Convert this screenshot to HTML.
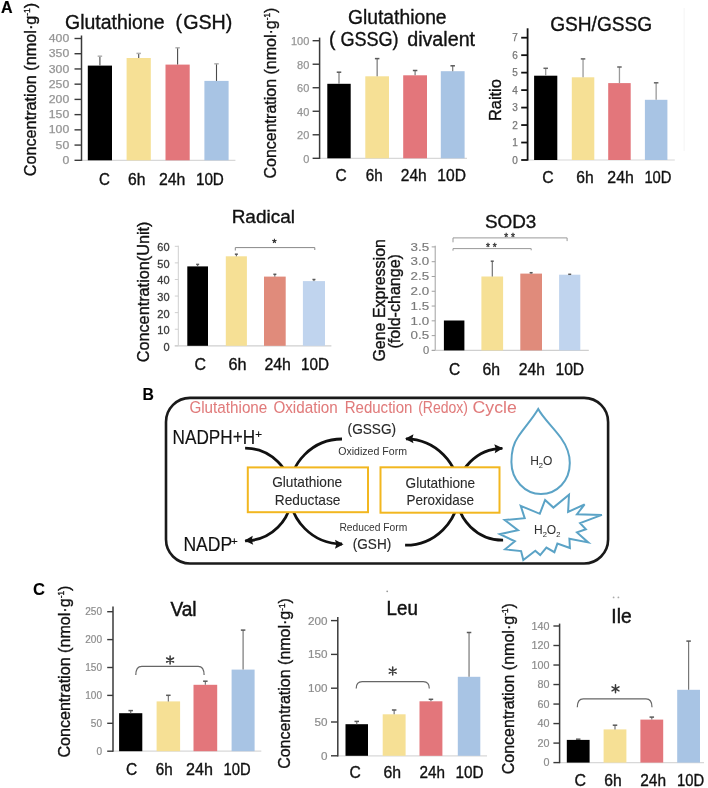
<!DOCTYPE html>
<html><head><meta charset="utf-8"><style>
html,body{margin:0;padding:0;background:#fff;width:708px;height:788px;overflow:hidden}
svg{display:block;font-family:"Liberation Sans",sans-serif;filter:blur(0.35px)}
</style></head><body>
<svg width="708" height="788" viewBox="0 0 708 788">
<text x="0.9" y="12.6" font-size="16.5" fill="#000" stroke="#000" stroke-width="0.2" font-weight="bold" textLength="11.6" lengthAdjust="spacingAndGlyphs" >A</text>
<line x1="81.5" y1="160.3" x2="235.4" y2="160.3" stroke="#d8d8d8" stroke-width="1.2" />
<line x1="81.5" y1="35.5" x2="81.5" y2="160.9" stroke="#3a3a3a" stroke-width="1.5" />
<line x1="74.5" y1="160.3" x2="81.5" y2="160.3" stroke="#3a3a3a" stroke-width="1.4" />
<text x="69.2" y="163.9" font-size="10.3" fill="#959595" stroke="#959595" stroke-width="0.25" text-anchor="end" textLength="6.8" lengthAdjust="spacingAndGlyphs" >0</text>
<line x1="74.5" y1="145.08" x2="81.5" y2="145.08" stroke="#3a3a3a" stroke-width="1.4" />
<text x="69.2" y="148.68" font-size="10.3" fill="#959595" stroke="#959595" stroke-width="0.25" text-anchor="end" textLength="13.6" lengthAdjust="spacingAndGlyphs" >50</text>
<line x1="74.5" y1="129.85" x2="81.5" y2="129.85" stroke="#3a3a3a" stroke-width="1.4" />
<text x="69.2" y="133.45" font-size="10.3" fill="#959595" stroke="#959595" stroke-width="0.25" text-anchor="end" textLength="20.4" lengthAdjust="spacingAndGlyphs" >100</text>
<line x1="74.5" y1="114.63" x2="81.5" y2="114.63" stroke="#3a3a3a" stroke-width="1.4" />
<text x="69.2" y="118.23" font-size="10.3" fill="#959595" stroke="#959595" stroke-width="0.25" text-anchor="end" textLength="20.4" lengthAdjust="spacingAndGlyphs" >150</text>
<line x1="74.5" y1="99.4" x2="81.5" y2="99.4" stroke="#3a3a3a" stroke-width="1.4" />
<text x="69.2" y="103.0" font-size="10.3" fill="#959595" stroke="#959595" stroke-width="0.25" text-anchor="end" textLength="20.4" lengthAdjust="spacingAndGlyphs" >200</text>
<line x1="74.5" y1="84.17" x2="81.5" y2="84.17" stroke="#3a3a3a" stroke-width="1.4" />
<text x="69.2" y="87.77" font-size="10.3" fill="#959595" stroke="#959595" stroke-width="0.25" text-anchor="end" textLength="20.4" lengthAdjust="spacingAndGlyphs" >250</text>
<line x1="74.5" y1="68.95" x2="81.5" y2="68.95" stroke="#3a3a3a" stroke-width="1.4" />
<text x="69.2" y="72.55" font-size="10.3" fill="#959595" stroke="#959595" stroke-width="0.25" text-anchor="end" textLength="20.4" lengthAdjust="spacingAndGlyphs" >300</text>
<line x1="74.5" y1="53.72" x2="81.5" y2="53.72" stroke="#3a3a3a" stroke-width="1.4" />
<text x="69.2" y="57.32" font-size="10.3" fill="#959595" stroke="#959595" stroke-width="0.25" text-anchor="end" textLength="20.4" lengthAdjust="spacingAndGlyphs" >350</text>
<line x1="74.5" y1="38.5" x2="81.5" y2="38.5" stroke="#3a3a3a" stroke-width="1.4" />
<text x="69.2" y="42.1" font-size="10.3" fill="#959595" stroke="#959595" stroke-width="0.25" text-anchor="end" textLength="20.4" lengthAdjust="spacingAndGlyphs" >400</text>
<rect x="87.8" y="65.6" width="24.200000000000003" height="94.70000000000002" fill="#000"/>
<line x1="99.9" y1="65.6" x2="99.9" y2="56.2" stroke="#4a4a4a" stroke-width="1.1" />
<line x1="97.65" y1="56.2" x2="102.15" y2="56.2" stroke="#b0b0b0" stroke-width="1.5" />
<rect x="126.6" y="58" width="24.200000000000017" height="102.30000000000001" fill="#f6e095"/>
<line x1="138.7" y1="58" x2="138.7" y2="53.4" stroke="#4a4a4a" stroke-width="1.1" />
<line x1="136.45" y1="53.4" x2="140.95" y2="53.4" stroke="#b0b0b0" stroke-width="1.5" />
<rect x="165.5" y="64.6" width="24.19999999999999" height="95.70000000000002" fill="#e3767b"/>
<line x1="177.6" y1="64.6" x2="177.6" y2="47.8" stroke="#4a4a4a" stroke-width="1.1" />
<line x1="175.35" y1="47.8" x2="179.85" y2="47.8" stroke="#b0b0b0" stroke-width="1.5" />
<rect x="204.4" y="80.9" width="24.19999999999999" height="79.4" fill="#a8c4e4"/>
<line x1="216.5" y1="80.9" x2="216.5" y2="63.8" stroke="#4a4a4a" stroke-width="1.1" />
<line x1="214.25" y1="63.8" x2="218.75" y2="63.8" stroke="#b0b0b0" stroke-width="1.5" />
<text x="98.9" y="184.5" font-size="16" fill="#111" stroke="#111" stroke-width="0.35" textLength="10.9" lengthAdjust="spacingAndGlyphs" >C</text>
<text x="128.1" y="184.5" font-size="16" fill="#111" stroke="#111" stroke-width="0.35" textLength="17.4" lengthAdjust="spacingAndGlyphs" >6h</text>
<text x="158.9" y="184.5" font-size="16" fill="#111" stroke="#111" stroke-width="0.35" textLength="26.4" lengthAdjust="spacingAndGlyphs" >24h</text>
<text x="195.9" y="184.5" font-size="16" fill="#111" stroke="#111" stroke-width="0.35" textLength="28.0" lengthAdjust="spacingAndGlyphs" >10D</text>
<text x="65" y="28.6" font-size="19.5" fill="#111" stroke="#111" stroke-width="0.35" textLength="99.5" lengthAdjust="spacingAndGlyphs" >Glutathione</text>
<text x="175.4" y="28.6" font-size="19.5" fill="#111" stroke="#111" stroke-width="0.35" >(</text>
<text x="183.2" y="28.6" font-size="19.5" fill="#111" stroke="#111" stroke-width="0.35" textLength="49.2" lengthAdjust="spacingAndGlyphs" >GSH)</text>
<text transform="translate(35.6,176.32) rotate(-90)" x="0" y="0" font-size="16.5" fill="#111" stroke="#111" stroke-width="0.35" textLength="173.5" lengthAdjust="spacingAndGlyphs" >Concentration (nmol·g<tspan font-size="8.5" dy="-5.5">-1</tspan><tspan dy="5.5">)</tspan></text>
<line x1="319.6" y1="158.3" x2="467" y2="158.3" stroke="#d8d8d8" stroke-width="1.2" />
<line x1="319.6" y1="37.6" x2="319.6" y2="158.9" stroke="#3a3a3a" stroke-width="1.5" />
<line x1="312.6" y1="158.3" x2="319.6" y2="158.3" stroke="#3a3a3a" stroke-width="1.4" />
<text x="309.3" y="162.7" font-size="11" fill="#959595" stroke="#959595" stroke-width="0.25" text-anchor="end" >0</text>
<line x1="312.6" y1="134.78" x2="319.6" y2="134.78" stroke="#3a3a3a" stroke-width="1.4" />
<text x="309.3" y="139.18" font-size="11" fill="#959595" stroke="#959595" stroke-width="0.25" text-anchor="end" >20</text>
<line x1="312.6" y1="111.26" x2="319.6" y2="111.26" stroke="#3a3a3a" stroke-width="1.4" />
<text x="309.3" y="115.66" font-size="11" fill="#959595" stroke="#959595" stroke-width="0.25" text-anchor="end" >40</text>
<line x1="312.6" y1="87.74" x2="319.6" y2="87.74" stroke="#3a3a3a" stroke-width="1.4" />
<text x="309.3" y="92.14" font-size="11" fill="#959595" stroke="#959595" stroke-width="0.25" text-anchor="end" >60</text>
<line x1="312.6" y1="64.22" x2="319.6" y2="64.22" stroke="#3a3a3a" stroke-width="1.4" />
<text x="309.3" y="68.62" font-size="11" fill="#959595" stroke="#959595" stroke-width="0.25" text-anchor="end" >80</text>
<line x1="312.6" y1="40.7" x2="319.6" y2="40.7" stroke="#3a3a3a" stroke-width="1.4" />
<text x="309.3" y="45.1" font-size="11" fill="#959595" stroke="#959595" stroke-width="0.25" text-anchor="end" >100</text>
<rect x="327.3" y="83.8" width="23.399999999999977" height="74.50000000000001" fill="#000"/>
<line x1="339.0" y1="83.8" x2="339.0" y2="72.2" stroke="#777" stroke-width="1.2" />
<line x1="336.75" y1="72.2" x2="341.25" y2="72.2" stroke="#5a5a5a" stroke-width="1.5" />
<rect x="365.3" y="76.3" width="23.69999999999999" height="82.00000000000001" fill="#f6e095"/>
<line x1="377.15" y1="76.3" x2="377.15" y2="58.6" stroke="#777" stroke-width="1.2" />
<line x1="374.9" y1="58.6" x2="379.4" y2="58.6" stroke="#5a5a5a" stroke-width="1.5" />
<rect x="403.2" y="75.3" width="23.80000000000001" height="83.00000000000001" fill="#e3767b"/>
<line x1="415.1" y1="75.3" x2="415.1" y2="70.5" stroke="#777" stroke-width="1.2" />
<line x1="412.85" y1="70.5" x2="417.35" y2="70.5" stroke="#5a5a5a" stroke-width="1.5" />
<rect x="440.8" y="71.2" width="23.80000000000001" height="87.10000000000001" fill="#a8c4e4"/>
<line x1="452.7" y1="71.2" x2="452.7" y2="65.8" stroke="#777" stroke-width="1.2" />
<line x1="450.45" y1="65.8" x2="454.95" y2="65.8" stroke="#5a5a5a" stroke-width="1.5" />
<text x="335.6" y="180.5" font-size="16" fill="#111" stroke="#111" stroke-width="0.35" textLength="11.2" lengthAdjust="spacingAndGlyphs" >C</text>
<text x="365.7" y="180.5" font-size="16" fill="#111" stroke="#111" stroke-width="0.35" textLength="16.9" lengthAdjust="spacingAndGlyphs" >6h</text>
<text x="400.8" y="180.5" font-size="16" fill="#111" stroke="#111" stroke-width="0.35" textLength="25.9" lengthAdjust="spacingAndGlyphs" >24h</text>
<text x="437.3" y="180.5" font-size="16" fill="#111" stroke="#111" stroke-width="0.35" textLength="28.6" lengthAdjust="spacingAndGlyphs" >10D</text>
<text x="348" y="24.4" font-size="19.5" fill="#111" stroke="#111" stroke-width="0.35" textLength="98.6" lengthAdjust="spacingAndGlyphs" >Glutathione</text>
<text x="329" y="45.8" font-size="19.5" fill="#111" stroke="#111" stroke-width="0.35" >(</text>
<text x="340.4" y="45.8" font-size="19.5" fill="#111" stroke="#111" stroke-width="0.35" textLength="58.2" lengthAdjust="spacingAndGlyphs" >GSSG)</text>
<text x="407.2" y="45.8" font-size="19.5" fill="#111" stroke="#111" stroke-width="0.35" textLength="67.9" lengthAdjust="spacingAndGlyphs" >divalent</text>
<text transform="translate(275.6,178.52) rotate(-90)" x="0" y="0" font-size="16.5" fill="#111" stroke="#111" stroke-width="0.35" textLength="170.9" lengthAdjust="spacingAndGlyphs" >Concentration (nmol·g<tspan font-size="8.5" dy="-5.5">-1</tspan><tspan dy="5.5">)</tspan></text>
<line x1="527.6" y1="160" x2="674.8" y2="160" stroke="#d8d8d8" stroke-width="1.2" />
<line x1="527.6" y1="28.3" x2="527.6" y2="160.6" stroke="#111" stroke-width="1.8" />
<line x1="521.2" y1="160.0" x2="527.6" y2="160.0" stroke="#111" stroke-width="1.8" />
<text x="517.8" y="163.6" font-size="10" fill="#777" stroke="#777" stroke-width="0.25" text-anchor="end" >0</text>
<line x1="521.2" y1="142.53" x2="527.6" y2="142.53" stroke="#111" stroke-width="1.8" />
<text x="517.8" y="146.13" font-size="10" fill="#777" stroke="#777" stroke-width="0.25" text-anchor="end" >1</text>
<line x1="521.2" y1="125.06" x2="527.6" y2="125.06" stroke="#111" stroke-width="1.8" />
<text x="517.8" y="128.66" font-size="10" fill="#777" stroke="#777" stroke-width="0.25" text-anchor="end" >2</text>
<line x1="521.2" y1="107.59" x2="527.6" y2="107.59" stroke="#111" stroke-width="1.8" />
<text x="517.8" y="111.19" font-size="10" fill="#777" stroke="#777" stroke-width="0.25" text-anchor="end" >3</text>
<line x1="521.2" y1="90.11" x2="527.6" y2="90.11" stroke="#111" stroke-width="1.8" />
<text x="517.8" y="93.71" font-size="10" fill="#777" stroke="#777" stroke-width="0.25" text-anchor="end" >4</text>
<line x1="521.2" y1="72.64" x2="527.6" y2="72.64" stroke="#111" stroke-width="1.8" />
<text x="517.8" y="76.24" font-size="10" fill="#777" stroke="#777" stroke-width="0.25" text-anchor="end" >5</text>
<line x1="521.2" y1="55.17" x2="527.6" y2="55.17" stroke="#111" stroke-width="1.8" />
<text x="517.8" y="58.77" font-size="10" fill="#777" stroke="#777" stroke-width="0.25" text-anchor="end" >6</text>
<line x1="521.2" y1="37.7" x2="527.6" y2="37.7" stroke="#111" stroke-width="1.8" />
<text x="517.8" y="41.3" font-size="10" fill="#777" stroke="#777" stroke-width="0.25" text-anchor="end" >7</text>
<rect x="534.1" y="75.7" width="23.199999999999932" height="84.3" fill="#000"/>
<line x1="545.7" y1="75.7" x2="545.7" y2="68.3" stroke="#9a9a9a" stroke-width="1.3" />
<line x1="543.45" y1="68.3" x2="547.95" y2="68.3" stroke="#666" stroke-width="1.5" />
<rect x="571.8" y="77.3" width="22.5" height="82.7" fill="#f6e095"/>
<line x1="583.05" y1="77.3" x2="583.05" y2="58.9" stroke="#9a9a9a" stroke-width="1.3" />
<line x1="580.8" y1="58.9" x2="585.3" y2="58.9" stroke="#666" stroke-width="1.5" />
<rect x="608.2" y="83.1" width="22.5" height="76.9" fill="#e3767b"/>
<line x1="619.45" y1="83.1" x2="619.45" y2="67" stroke="#9a9a9a" stroke-width="1.3" />
<line x1="617.2" y1="67" x2="621.7" y2="67" stroke="#666" stroke-width="1.5" />
<rect x="644.9" y="99.8" width="22.5" height="60.2" fill="#a8c4e4"/>
<line x1="656.15" y1="99.8" x2="656.15" y2="82.8" stroke="#9a9a9a" stroke-width="1.3" />
<line x1="653.9" y1="82.8" x2="658.4" y2="82.8" stroke="#666" stroke-width="1.5" />
<text x="542.3" y="183.3" font-size="16" fill="#111" stroke="#111" stroke-width="0.35" textLength="11.4" lengthAdjust="spacingAndGlyphs" >C</text>
<text x="576.2" y="183.3" font-size="16" fill="#111" stroke="#111" stroke-width="0.35" textLength="17.4" lengthAdjust="spacingAndGlyphs" >6h</text>
<text x="607.3" y="183.3" font-size="16" fill="#111" stroke="#111" stroke-width="0.35" textLength="26.5" lengthAdjust="spacingAndGlyphs" >24h</text>
<text x="644.4" y="183.3" font-size="16" fill="#111" stroke="#111" stroke-width="0.35" textLength="27.1" lengthAdjust="spacingAndGlyphs" >10D</text>
<text x="550.2" y="31.2" font-size="19.5" fill="#111" stroke="#111" stroke-width="0.35" textLength="102" lengthAdjust="spacingAndGlyphs" >GSH/GSSG</text>
<text transform="translate(501.2,121.1) rotate(-90)" x="0" y="0" font-size="16.5" fill="#111" stroke="#111" stroke-width="0.35" textLength="42" lengthAdjust="spacingAndGlyphs" >Raitio</text>
<line x1="178.3" y1="245.7" x2="178.3" y2="345.8" stroke="#cfcfcf" stroke-width="1" />
<line x1="174.8" y1="345.8" x2="331.4" y2="345.8" stroke="#cfcfcf" stroke-width="1.2" />
<line x1="174.8" y1="345.8" x2="178.3" y2="345.8" stroke="#cfcfcf" stroke-width="1" />
<text x="169.6" y="350.7" font-size="11" fill="#3a3a3a" stroke="#3a3a3a" stroke-width="0.3" text-anchor="end" >0</text>
<line x1="174.8" y1="329.22" x2="178.3" y2="329.22" stroke="#cfcfcf" stroke-width="1" />
<text x="169.6" y="334.12" font-size="11" fill="#3a3a3a" stroke="#3a3a3a" stroke-width="0.3" text-anchor="end" >10</text>
<line x1="174.8" y1="312.63" x2="178.3" y2="312.63" stroke="#cfcfcf" stroke-width="1" />
<text x="169.6" y="317.53" font-size="11" fill="#3a3a3a" stroke="#3a3a3a" stroke-width="0.3" text-anchor="end" >20</text>
<line x1="174.8" y1="296.05" x2="178.3" y2="296.05" stroke="#cfcfcf" stroke-width="1" />
<text x="169.6" y="300.95" font-size="11" fill="#3a3a3a" stroke="#3a3a3a" stroke-width="0.3" text-anchor="end" >30</text>
<line x1="174.8" y1="279.47" x2="178.3" y2="279.47" stroke="#cfcfcf" stroke-width="1" />
<text x="169.6" y="284.37" font-size="11" fill="#3a3a3a" stroke="#3a3a3a" stroke-width="0.3" text-anchor="end" >40</text>
<line x1="174.8" y1="262.88" x2="178.3" y2="262.88" stroke="#cfcfcf" stroke-width="1" />
<text x="169.6" y="267.78" font-size="11" fill="#3a3a3a" stroke="#3a3a3a" stroke-width="0.3" text-anchor="end" >50</text>
<line x1="174.8" y1="246.3" x2="178.3" y2="246.3" stroke="#cfcfcf" stroke-width="1" />
<text x="169.6" y="251.2" font-size="11" fill="#3a3a3a" stroke="#3a3a3a" stroke-width="0.3" text-anchor="end" >60</text>
<rect x="187.3" y="266.4" width="20.69999999999999" height="79.40000000000003" fill="#000"/>
<line x1="197.65" y1="266.4" x2="197.65" y2="264.4" stroke="#555" stroke-width="1" />
<line x1="196.15" y1="264.4" x2="199.15" y2="264.4" stroke="#5a5a5a" stroke-width="1.5" />
<rect x="225.8" y="256.3" width="21.099999999999994" height="89.5" fill="#f6e095"/>
<line x1="236.35" y1="256.3" x2="236.35" y2="254.2" stroke="#555" stroke-width="1" />
<line x1="234.85" y1="254.2" x2="237.85" y2="254.2" stroke="#5a5a5a" stroke-width="1.5" />
<rect x="264" y="276.6" width="21.69999999999999" height="69.19999999999999" fill="#e08b7b"/>
<line x1="274.85" y1="276.6" x2="274.85" y2="274.3" stroke="#555" stroke-width="1" />
<line x1="273.35" y1="274.3" x2="276.35" y2="274.3" stroke="#5a5a5a" stroke-width="1.5" />
<rect x="302.9" y="281.1" width="22.100000000000023" height="64.69999999999999" fill="#c0d4ee"/>
<line x1="313.95" y1="281.1" x2="313.95" y2="279.5" stroke="#555" stroke-width="1" />
<line x1="312.45" y1="279.5" x2="315.45" y2="279.5" stroke="#5a5a5a" stroke-width="1.5" />
<path d="M235.3,250.5 L235.3,247.6 L314.8,247.6 L314.8,250" stroke="#888" stroke-width="1" fill="none" />
<text x="274.5" y="247" font-size="11" fill="#222" stroke="#222" stroke-width="0.35" text-anchor="middle" >*</text>
<text x="194.6" y="369.8" font-size="16" fill="#111" stroke="#111" stroke-width="0.35" textLength="11.5" lengthAdjust="spacingAndGlyphs" >C</text>
<text x="228.4" y="369.8" font-size="16" fill="#111" stroke="#111" stroke-width="0.35" textLength="18.0" lengthAdjust="spacingAndGlyphs" >6h</text>
<text x="264.4" y="369.8" font-size="16" fill="#111" stroke="#111" stroke-width="0.35" textLength="26.5" lengthAdjust="spacingAndGlyphs" >24h</text>
<text x="301.1" y="369.8" font-size="16" fill="#111" stroke="#111" stroke-width="0.35" textLength="28.0" lengthAdjust="spacingAndGlyphs" >10D</text>
<text x="231.7" y="222.9" font-size="18.5" fill="#111" stroke="#111" stroke-width="0.35" textLength="63.2" lengthAdjust="spacingAndGlyphs" >Radical</text>
<text transform="translate(148.5,362.3) rotate(-90)" x="0" y="0" font-size="16" fill="#111" stroke="#111" stroke-width="0.35" textLength="140.8" lengthAdjust="spacingAndGlyphs" >Concentration(Unit)</text>
<line x1="435.2" y1="245.7" x2="435.2" y2="350.4" stroke="#a0a0a0" stroke-width="1" />
<line x1="431.7" y1="350.4" x2="588.8" y2="350.4" stroke="#cfcfcf" stroke-width="1.2" />
<line x1="431.7" y1="350.4" x2="435.2" y2="350.4" stroke="#a0a0a0" stroke-width="1" />
<text x="429.2" y="354.2" font-size="10.5" fill="#7a7a7a" stroke="#7a7a7a" stroke-width="0.15" text-anchor="end" textLength="6.2" lengthAdjust="spacingAndGlyphs" >0</text>
<line x1="431.7" y1="335.61" x2="435.2" y2="335.61" stroke="#a0a0a0" stroke-width="1" />
<text x="429.2" y="339.41" font-size="10.5" fill="#7a7a7a" stroke="#7a7a7a" stroke-width="0.15" text-anchor="end" textLength="18.6" lengthAdjust="spacingAndGlyphs" >0.5</text>
<line x1="431.7" y1="320.83" x2="435.2" y2="320.83" stroke="#a0a0a0" stroke-width="1" />
<text x="429.2" y="324.63" font-size="10.5" fill="#7a7a7a" stroke="#7a7a7a" stroke-width="0.15" text-anchor="end" textLength="18.6" lengthAdjust="spacingAndGlyphs" >1.0</text>
<line x1="431.7" y1="306.04" x2="435.2" y2="306.04" stroke="#a0a0a0" stroke-width="1" />
<text x="429.2" y="309.84" font-size="10.5" fill="#7a7a7a" stroke="#7a7a7a" stroke-width="0.15" text-anchor="end" textLength="18.6" lengthAdjust="spacingAndGlyphs" >1.5</text>
<line x1="431.7" y1="291.26" x2="435.2" y2="291.26" stroke="#a0a0a0" stroke-width="1" />
<text x="429.2" y="295.06" font-size="10.5" fill="#7a7a7a" stroke="#7a7a7a" stroke-width="0.15" text-anchor="end" textLength="18.6" lengthAdjust="spacingAndGlyphs" >2.0</text>
<line x1="431.7" y1="276.47" x2="435.2" y2="276.47" stroke="#a0a0a0" stroke-width="1" />
<text x="429.2" y="280.27" font-size="10.5" fill="#7a7a7a" stroke="#7a7a7a" stroke-width="0.15" text-anchor="end" textLength="18.6" lengthAdjust="spacingAndGlyphs" >2.5</text>
<line x1="431.7" y1="261.69" x2="435.2" y2="261.69" stroke="#a0a0a0" stroke-width="1" />
<text x="429.2" y="265.49" font-size="10.5" fill="#7a7a7a" stroke="#7a7a7a" stroke-width="0.15" text-anchor="end" textLength="18.6" lengthAdjust="spacingAndGlyphs" >3.0</text>
<line x1="431.7" y1="246.9" x2="435.2" y2="246.9" stroke="#a0a0a0" stroke-width="1" />
<text x="429.2" y="250.7" font-size="10.5" fill="#7a7a7a" stroke="#7a7a7a" stroke-width="0.15" text-anchor="end" textLength="18.6" lengthAdjust="spacingAndGlyphs" >3.5</text>
<rect x="443.9" y="320.5" width="20.5" height="29.899999999999977" fill="#000"/>
<rect x="481.4" y="276.5" width="21.700000000000045" height="73.89999999999998" fill="#f6e095"/>
<line x1="492.25" y1="276.5" x2="492.25" y2="261.2" stroke="#555" stroke-width="1" />
<line x1="490.75" y1="261.2" x2="493.75" y2="261.2" stroke="#5a5a5a" stroke-width="1.5" />
<rect x="520.3" y="273.6" width="21.700000000000045" height="76.79999999999995" fill="#e08b7b"/>
<line x1="531.15" y1="273.6" x2="531.15" y2="272.7" stroke="#555" stroke-width="1" />
<line x1="529.65" y1="272.7" x2="532.65" y2="272.7" stroke="#5a5a5a" stroke-width="1.5" />
<rect x="559.1" y="274.7" width="21.199999999999932" height="75.69999999999999" fill="#c0d4ee"/>
<line x1="569.7" y1="274.7" x2="569.7" y2="274.3" stroke="#555" stroke-width="1" />
<line x1="568.2" y1="274.3" x2="571.2" y2="274.3" stroke="#5a5a5a" stroke-width="1.5" />
<path d="M453,242.3 L453,237.9 L567.1,237.9 L567.1,241.1" stroke="#999" stroke-width="1" fill="none" />
<path d="M453,250.7 L453,248.6 L531.2,248.6 L531.2,250.3" stroke="#999" stroke-width="1" fill="none" />
<text x="509.5" y="241" font-size="10" fill="#333" stroke="#333" stroke-width="0.35" text-anchor="middle" >* *</text>
<text x="491.3" y="251" font-size="10" fill="#333" stroke="#333" stroke-width="0.35" text-anchor="middle" >* *</text>
<text x="448.9" y="375.3" font-size="16" fill="#111" stroke="#111" stroke-width="0.35" textLength="11.2" lengthAdjust="spacingAndGlyphs" >C</text>
<text x="482.4" y="375.3" font-size="16" fill="#111" stroke="#111" stroke-width="0.35" textLength="17.6" lengthAdjust="spacingAndGlyphs" >6h</text>
<text x="518.8" y="375.3" font-size="16" fill="#111" stroke="#111" stroke-width="0.35" textLength="26.1" lengthAdjust="spacingAndGlyphs" >24h</text>
<text x="555.5" y="375.3" font-size="16" fill="#111" stroke="#111" stroke-width="0.35" textLength="28.6" lengthAdjust="spacingAndGlyphs" >10D</text>
<text x="484.9" y="227.9" font-size="18.5" fill="#111" stroke="#111" stroke-width="0.35" textLength="51.4" lengthAdjust="spacingAndGlyphs" >SOD3</text>
<text transform="translate(385,361.6) rotate(-90)" x="0" y="0" font-size="16" fill="#111" stroke="#111" stroke-width="0.35" textLength="122.5" lengthAdjust="spacingAndGlyphs" >Gene Expression</text>
<text transform="translate(400.2,348.6) rotate(-90)" x="0" y="0" font-size="16" fill="#111" stroke="#111" stroke-width="0.35" textLength="94.5" lengthAdjust="spacingAndGlyphs" >(fold-change)</text>
<line x1="113" y1="751.2" x2="261.3" y2="751.2" stroke="#d8d8d8" stroke-width="1.2" />
<line x1="113" y1="606.6" x2="113" y2="751.8000000000001" stroke="#3a3a3a" stroke-width="1.5" />
<line x1="107.2" y1="751.2" x2="113" y2="751.2" stroke="#3a3a3a" stroke-width="1.4" />
<text x="102" y="754.9" font-size="10.5" fill="#8c8c8c" stroke="#8c8c8c" stroke-width="0.2" text-anchor="end" textLength="5.6" lengthAdjust="spacingAndGlyphs" >0</text>
<line x1="107.2" y1="723.3" x2="113" y2="723.3" stroke="#3a3a3a" stroke-width="1.4" />
<text x="102" y="727.0" font-size="10.5" fill="#8c8c8c" stroke="#8c8c8c" stroke-width="0.2" text-anchor="end" textLength="11.2" lengthAdjust="spacingAndGlyphs" >50</text>
<line x1="107.2" y1="695.4" x2="113" y2="695.4" stroke="#3a3a3a" stroke-width="1.4" />
<text x="102" y="699.1" font-size="10.5" fill="#8c8c8c" stroke="#8c8c8c" stroke-width="0.2" text-anchor="end" textLength="16.8" lengthAdjust="spacingAndGlyphs" >100</text>
<line x1="107.2" y1="667.5" x2="113" y2="667.5" stroke="#3a3a3a" stroke-width="1.4" />
<text x="102" y="671.2" font-size="10.5" fill="#8c8c8c" stroke="#8c8c8c" stroke-width="0.2" text-anchor="end" textLength="16.8" lengthAdjust="spacingAndGlyphs" >150</text>
<line x1="107.2" y1="639.6" x2="113" y2="639.6" stroke="#3a3a3a" stroke-width="1.4" />
<text x="102" y="643.3" font-size="10.5" fill="#8c8c8c" stroke="#8c8c8c" stroke-width="0.2" text-anchor="end" textLength="16.8" lengthAdjust="spacingAndGlyphs" >200</text>
<line x1="107.2" y1="611.7" x2="113" y2="611.7" stroke="#3a3a3a" stroke-width="1.4" />
<text x="102" y="615.4" font-size="10.5" fill="#8c8c8c" stroke="#8c8c8c" stroke-width="0.2" text-anchor="end" textLength="16.8" lengthAdjust="spacingAndGlyphs" >250</text>
<rect x="119.1" y="713.2" width="23.200000000000017" height="38.0" fill="#000"/>
<line x1="130.7" y1="713.2" x2="130.7" y2="710.6" stroke="#777" stroke-width="1.2" />
<line x1="128.45" y1="710.6" x2="132.95" y2="710.6" stroke="#5a5a5a" stroke-width="1.5" />
<rect x="156.6" y="701.4" width="23.5" height="49.80000000000007" fill="#f6e095"/>
<line x1="168.35" y1="701.4" x2="168.35" y2="695.3" stroke="#777" stroke-width="1.2" />
<line x1="166.1" y1="695.3" x2="170.6" y2="695.3" stroke="#5a5a5a" stroke-width="1.5" />
<rect x="193.5" y="684.8" width="23.69999999999999" height="66.40000000000009" fill="#e3767b"/>
<line x1="205.35" y1="684.8" x2="205.35" y2="681.2" stroke="#777" stroke-width="1.2" />
<line x1="203.1" y1="681.2" x2="207.6" y2="681.2" stroke="#5a5a5a" stroke-width="1.5" />
<rect x="231.6" y="669.6" width="23.0" height="81.60000000000002" fill="#a8c4e4"/>
<line x1="243.1" y1="669.6" x2="243.1" y2="630.1" stroke="#777" stroke-width="1.2" />
<line x1="240.85" y1="630.1" x2="245.35" y2="630.1" stroke="#5a5a5a" stroke-width="1.5" />
<path d="M135.8,675 Q135.8,666.3 141.8,666.3 L198.1,666.3 Q204.1,666.3 204.1,675" stroke="#666" stroke-width="1.2" fill="none" />
<path d="M170.10,656.00 L170.10,664.00 M166.64,658.00 L173.56,662.00 M173.56,658.00 L166.64,662.00" stroke="#3a3a3a" stroke-width="1.5" fill="none" stroke-linecap="round"/>
<text x="126" y="775.4" font-size="16" fill="#111" stroke="#111" stroke-width="0.35" textLength="11.2" lengthAdjust="spacingAndGlyphs" >C</text>
<text x="155.7" y="775.4" font-size="16" fill="#111" stroke="#111" stroke-width="0.35" textLength="16.9" lengthAdjust="spacingAndGlyphs" >6h</text>
<text x="186" y="775.4" font-size="16" fill="#111" stroke="#111" stroke-width="0.35" textLength="26.9" lengthAdjust="spacingAndGlyphs" >24h</text>
<text x="223.5" y="775.4" font-size="16" fill="#111" stroke="#111" stroke-width="0.35" textLength="27.1" lengthAdjust="spacingAndGlyphs" >10D</text>
<text x="170.4" y="615.7" font-size="19.5" fill="#111" stroke="#111" stroke-width="0.45" textLength="26.2" lengthAdjust="spacingAndGlyphs" >Val</text>
<text transform="translate(69.9,757.62) rotate(-90)" x="0" y="0" font-size="16.5" fill="#111" stroke="#111" stroke-width="0.35" textLength="172.0" lengthAdjust="spacingAndGlyphs" >Concentration (nmol·g<tspan font-size="8.5" dy="-5.5">-1</tspan><tspan dy="5.5">)</tspan></text>
<line x1="337.8" y1="755.8" x2="487" y2="755.8" stroke="#d8d8d8" stroke-width="1.2" />
<line x1="337.8" y1="617.1" x2="337.8" y2="756.4" stroke="#3a3a3a" stroke-width="1.5" />
<line x1="331.0" y1="755.8" x2="337.8" y2="755.8" stroke="#3a3a3a" stroke-width="1.4" />
<text x="327.6" y="759.7" font-size="11" fill="#8c8c8c" stroke="#8c8c8c" stroke-width="0.2" text-anchor="end" textLength="6.5" lengthAdjust="spacingAndGlyphs" >0</text>
<line x1="331.0" y1="722.0" x2="337.8" y2="722.0" stroke="#3a3a3a" stroke-width="1.4" />
<text x="327.6" y="725.9" font-size="11" fill="#8c8c8c" stroke="#8c8c8c" stroke-width="0.2" text-anchor="end" textLength="13.0" lengthAdjust="spacingAndGlyphs" >50</text>
<line x1="331.0" y1="688.2" x2="337.8" y2="688.2" stroke="#3a3a3a" stroke-width="1.4" />
<text x="327.6" y="692.1" font-size="11" fill="#8c8c8c" stroke="#8c8c8c" stroke-width="0.2" text-anchor="end" textLength="19.5" lengthAdjust="spacingAndGlyphs" >100</text>
<line x1="331.0" y1="654.4" x2="337.8" y2="654.4" stroke="#3a3a3a" stroke-width="1.4" />
<text x="327.6" y="658.3" font-size="11" fill="#8c8c8c" stroke="#8c8c8c" stroke-width="0.2" text-anchor="end" textLength="19.5" lengthAdjust="spacingAndGlyphs" >150</text>
<line x1="331.0" y1="620.6" x2="337.8" y2="620.6" stroke="#3a3a3a" stroke-width="1.4" />
<text x="327.6" y="624.5" font-size="11" fill="#8c8c8c" stroke="#8c8c8c" stroke-width="0.2" text-anchor="end" textLength="19.5" lengthAdjust="spacingAndGlyphs" >200</text>
<rect x="345.5" y="724.2" width="22.5" height="31.59999999999991" fill="#000"/>
<line x1="356.75" y1="724.2" x2="356.75" y2="721.4" stroke="#777" stroke-width="1.2" />
<line x1="354.5" y1="721.4" x2="359.0" y2="721.4" stroke="#5a5a5a" stroke-width="1.5" />
<rect x="382.7" y="714.3" width="22.900000000000034" height="41.5" fill="#f6e095"/>
<line x1="394.15" y1="714.3" x2="394.15" y2="710" stroke="#777" stroke-width="1.2" />
<line x1="391.9" y1="710" x2="396.4" y2="710" stroke="#5a5a5a" stroke-width="1.5" />
<rect x="419.5" y="701.3" width="22.899999999999977" height="54.5" fill="#e3767b"/>
<line x1="430.95" y1="701.3" x2="430.95" y2="699.3" stroke="#777" stroke-width="1.2" />
<line x1="428.7" y1="699.3" x2="433.2" y2="699.3" stroke="#5a5a5a" stroke-width="1.5" />
<rect x="457.8" y="676.8" width="22.5" height="79.0" fill="#a8c4e4"/>
<line x1="469.05" y1="676.8" x2="469.05" y2="632.5" stroke="#777" stroke-width="1.2" />
<line x1="466.8" y1="632.5" x2="471.3" y2="632.5" stroke="#5a5a5a" stroke-width="1.5" />
<path d="M356.2,688.6 Q356.2,681.6 362.2,681.6 L423.3,681.6 Q429.3,681.6 429.3,688.6" stroke="#666" stroke-width="1.2" fill="none" />
<path d="M392.70,667.10 L392.70,675.10 M389.24,669.10 L396.16,673.10 M396.16,669.10 L389.24,673.10" stroke="#3a3a3a" stroke-width="1.5" fill="none" stroke-linecap="round"/>
<text x="349.5" y="778.4" font-size="16" fill="#111" stroke="#111" stroke-width="0.35" textLength="11.3" lengthAdjust="spacingAndGlyphs" >C</text>
<text x="383.4" y="778.4" font-size="16" fill="#111" stroke="#111" stroke-width="0.35" textLength="17.6" lengthAdjust="spacingAndGlyphs" >6h</text>
<text x="419.4" y="778.4" font-size="16" fill="#111" stroke="#111" stroke-width="0.35" textLength="25.5" lengthAdjust="spacingAndGlyphs" >24h</text>
<text x="455.5" y="778.4" font-size="16" fill="#111" stroke="#111" stroke-width="0.35" textLength="28.1" lengthAdjust="spacingAndGlyphs" >10D</text>
<text x="386.6" y="615.3" font-size="19.5" fill="#111" stroke="#111" stroke-width="0.45" textLength="31.2" lengthAdjust="spacingAndGlyphs" >Leu</text>
<text transform="translate(290.3,768.83) rotate(-90)" x="0" y="0" font-size="16.5" fill="#111" stroke="#111" stroke-width="0.35" textLength="170.7" lengthAdjust="spacingAndGlyphs" >Concentration (nmol·g<tspan font-size="8.5" dy="-5.5">-1</tspan><tspan dy="5.5">)</tspan></text>
<line x1="559.6" y1="762.6" x2="704" y2="762.6" stroke="#d8d8d8" stroke-width="1.2" />
<line x1="559.6" y1="623.6" x2="559.6" y2="763.2" stroke="#3a3a3a" stroke-width="1.5" />
<line x1="553.4" y1="762.6" x2="559.6" y2="762.6" stroke="#3a3a3a" stroke-width="1.4" />
<text x="549.6" y="766.3" font-size="10.5" fill="#8c8c8c" stroke="#8c8c8c" stroke-width="0.2" text-anchor="end" textLength="6.0" lengthAdjust="spacingAndGlyphs" >0</text>
<line x1="553.4" y1="743.09" x2="559.6" y2="743.09" stroke="#3a3a3a" stroke-width="1.4" />
<text x="549.6" y="746.79" font-size="10.5" fill="#8c8c8c" stroke="#8c8c8c" stroke-width="0.2" text-anchor="end" textLength="12.0" lengthAdjust="spacingAndGlyphs" >20</text>
<line x1="553.4" y1="723.57" x2="559.6" y2="723.57" stroke="#3a3a3a" stroke-width="1.4" />
<text x="549.6" y="727.27" font-size="10.5" fill="#8c8c8c" stroke="#8c8c8c" stroke-width="0.2" text-anchor="end" textLength="12.0" lengthAdjust="spacingAndGlyphs" >40</text>
<line x1="553.4" y1="704.06" x2="559.6" y2="704.06" stroke="#3a3a3a" stroke-width="1.4" />
<text x="549.6" y="707.76" font-size="10.5" fill="#8c8c8c" stroke="#8c8c8c" stroke-width="0.2" text-anchor="end" textLength="12.0" lengthAdjust="spacingAndGlyphs" >60</text>
<line x1="553.4" y1="684.54" x2="559.6" y2="684.54" stroke="#3a3a3a" stroke-width="1.4" />
<text x="549.6" y="688.24" font-size="10.5" fill="#8c8c8c" stroke="#8c8c8c" stroke-width="0.2" text-anchor="end" textLength="12.0" lengthAdjust="spacingAndGlyphs" >80</text>
<line x1="553.4" y1="665.03" x2="559.6" y2="665.03" stroke="#3a3a3a" stroke-width="1.4" />
<text x="549.6" y="668.73" font-size="10.5" fill="#8c8c8c" stroke="#8c8c8c" stroke-width="0.2" text-anchor="end" textLength="18.0" lengthAdjust="spacingAndGlyphs" >100</text>
<line x1="553.4" y1="645.51" x2="559.6" y2="645.51" stroke="#3a3a3a" stroke-width="1.4" />
<text x="549.6" y="649.21" font-size="10.5" fill="#8c8c8c" stroke="#8c8c8c" stroke-width="0.2" text-anchor="end" textLength="18.0" lengthAdjust="spacingAndGlyphs" >120</text>
<line x1="553.4" y1="626.0" x2="559.6" y2="626.0" stroke="#3a3a3a" stroke-width="1.4" />
<text x="549.6" y="629.7" font-size="10.5" fill="#8c8c8c" stroke="#8c8c8c" stroke-width="0.2" text-anchor="end" textLength="18.0" lengthAdjust="spacingAndGlyphs" >140</text>
<rect x="566.8" y="739.9" width="22.800000000000068" height="22.700000000000045" fill="#000"/>
<line x1="578.2" y1="739.9" x2="578.2" y2="739.2" stroke="#777" stroke-width="1.2" />
<line x1="575.95" y1="739.2" x2="580.45" y2="739.2" stroke="#5a5a5a" stroke-width="1.5" />
<rect x="603.6" y="729.4" width="22.799999999999955" height="33.200000000000045" fill="#f6e095"/>
<line x1="615.0" y1="729.4" x2="615.0" y2="725.2" stroke="#777" stroke-width="1.2" />
<line x1="612.75" y1="725.2" x2="617.25" y2="725.2" stroke="#5a5a5a" stroke-width="1.5" />
<rect x="640.4" y="719.6" width="22.800000000000068" height="43.0" fill="#e3767b"/>
<line x1="651.8" y1="719.6" x2="651.8" y2="717.1" stroke="#777" stroke-width="1.2" />
<line x1="649.55" y1="717.1" x2="654.05" y2="717.1" stroke="#5a5a5a" stroke-width="1.5" />
<rect x="677.2" y="689.8" width="22.799999999999955" height="72.80000000000007" fill="#a8c4e4"/>
<line x1="688.6" y1="689.8" x2="688.6" y2="641.1" stroke="#777" stroke-width="1.2" />
<line x1="686.35" y1="641.1" x2="690.85" y2="641.1" stroke="#5a5a5a" stroke-width="1.5" />
<path d="M577.3,707.3 Q577.3,698.9 583.3,698.9 L646,698.9 Q652,698.9 652,707.3" stroke="#666" stroke-width="1.2" fill="none" />
<path d="M615.50,684.80 L615.50,692.80 M612.04,686.80 L618.96,690.80 M618.96,686.80 L612.04,690.80" stroke="#3a3a3a" stroke-width="1.5" fill="none" stroke-linecap="round"/>
<circle cx="387.2" cy="591.3" r="0.9" fill="#999"/>
<circle cx="613.6" cy="597.4" r="0.9" fill="#aaa"/>
<circle cx="618.4" cy="597.4" r="0.9" fill="#aaa"/>
<text x="574.5" y="786.3" font-size="16" fill="#111" stroke="#111" stroke-width="0.35" textLength="11.5" lengthAdjust="spacingAndGlyphs" >C</text>
<text x="604.2" y="786.3" font-size="16" fill="#111" stroke="#111" stroke-width="0.35" textLength="17.4" lengthAdjust="spacingAndGlyphs" >6h</text>
<text x="640.2" y="786.3" font-size="16" fill="#111" stroke="#111" stroke-width="0.35" textLength="25.8" lengthAdjust="spacingAndGlyphs" >24h</text>
<text x="677.1" y="786.3" font-size="16" fill="#111" stroke="#111" stroke-width="0.35" textLength="27.1" lengthAdjust="spacingAndGlyphs" >10D</text>
<text x="611.3" y="622.5" font-size="19.5" fill="#111" stroke="#111" stroke-width="0.45" textLength="20.3" lengthAdjust="spacingAndGlyphs" >Ile</text>
<text transform="translate(513.8,774.33) rotate(-90)" x="0" y="0" font-size="16.5" fill="#111" stroke="#111" stroke-width="0.35" textLength="171.2" lengthAdjust="spacingAndGlyphs" >Concentration (nmol·g<tspan font-size="8.5" dy="-5.5">-1</tspan><tspan dy="5.5">)</tspan></text>
<rect x="166" y="397.9" width="442.1" height="165.6" rx="24" ry="24" fill="none" stroke="#1a1a1a" stroke-width="2.6"/>
<text x="189.4" y="412.8" font-size="16.2" fill="#e07b7b" stroke="#e07b7b" stroke-width="0.05" textLength="77.9" lengthAdjust="spacingAndGlyphs" >Glutathione</text>
<text x="273.4" y="412.8" font-size="16.2" fill="#e07b7b" stroke="#e07b7b" stroke-width="0.05" textLength="64.3" lengthAdjust="spacingAndGlyphs" >Oxidation</text>
<text x="344.7" y="412.8" font-size="16.2" fill="#e07b7b" stroke="#e07b7b" stroke-width="0.05" textLength="67.7" lengthAdjust="spacingAndGlyphs" >Reduction</text>
<text x="418.2" y="412.8" font-size="16.2" fill="#e07b7b" stroke="#e07b7b" stroke-width="0.05" textLength="49.8" lengthAdjust="spacingAndGlyphs" >(Redox)</text>
<text x="472.6" y="412.8" font-size="16.2" fill="#e07b7b" stroke="#e07b7b" stroke-width="0.05" textLength="44.1" lengthAdjust="spacingAndGlyphs" >Cycle</text>
<path d="M245.1,448.1 A46.4,46.4 0 0 1 245.1,540.9" stroke="#111" stroke-width="2.8" fill="none" />
<path d="M342,439 A52.5,52.5 0 0 0 342,544" stroke="#111" stroke-width="2.8" fill="none" />
<path d="M406,438.8 A53.2,53.2 0 0 1 405.1,545.2" stroke="#111" stroke-width="2.8" fill="none" />
<path d="M502.4,448.3 A45.8,45.8 0 0 0 503.1,540.1" stroke="#111" stroke-width="2.8" fill="none" />
<rect x="247.8" y="467.4" width="120.2" height="44.8" fill="#fff" stroke="#f2b720" stroke-width="2"/>
<rect x="380.5" y="467.3" width="119" height="45.4" fill="#fff" stroke="#f2b720" stroke-width="2"/>
<path d="M244.50,540.60 L252.76,535.68 L251.72,540.24 L253.21,544.67 Z" fill="#111"/>
<path d="M343.50,544.20 L335.00,548.70 L336.27,544.20 L335.00,539.70 Z" fill="#111"/>
<path d="M405.00,438.80 L413.50,434.30 L412.23,438.80 L413.50,443.30 Z" fill="#111"/>
<path d="M503.00,448.30 L494.74,453.22 L495.78,448.66 L494.29,444.23 Z" fill="#111"/>
<text x="172.6" y="443.6" font-size="19.8" fill="#111" stroke="#111" stroke-width="0.15" textLength="82.6" lengthAdjust="spacingAndGlyphs" >NADPH+H</text>
<text x="255.2" y="438.2" font-size="11.5" fill="#111" stroke="#111" stroke-width="0.2" >+</text>
<text x="183.4" y="550.9" font-size="19.8" fill="#111" stroke="#111" stroke-width="0.15" textLength="48.8" lengthAdjust="spacingAndGlyphs" >NADP</text>
<text x="230.9" y="544.6" font-size="11.5" fill="#111" stroke="#111" stroke-width="0.2" >+</text>
<text x="347.6" y="433.6" font-size="14.5" fill="#2a2a2a" stroke="#2a2a2a" stroke-width="0.15" textLength="48.5" lengthAdjust="spacingAndGlyphs" >(GSSG)</text>
<text x="338.2" y="455.2" font-size="11" fill="#333" textLength="68.8" lengthAdjust="spacingAndGlyphs" >Oxidized Form</text>
<text x="339.4" y="531.2" font-size="11" fill="#333" textLength="67.8" lengthAdjust="spacingAndGlyphs" >Reduced Form</text>
<text x="352.8" y="549" font-size="14.5" fill="#2a2a2a" stroke="#2a2a2a" stroke-width="0.15" textLength="38.4" lengthAdjust="spacingAndGlyphs" >(GSH)</text>
<text x="272.2" y="487.1" font-size="15" fill="#2a2a2a" stroke="#2a2a2a" stroke-width="0.1" textLength="70" lengthAdjust="spacingAndGlyphs" >Glutathione</text>
<text x="274.8" y="504.8" font-size="15" fill="#2a2a2a" stroke="#2a2a2a" stroke-width="0.1" textLength="65.6" lengthAdjust="spacingAndGlyphs" >Reductase</text>
<text x="405.6" y="487.6" font-size="15" fill="#2a2a2a" stroke="#2a2a2a" stroke-width="0.1" textLength="69.6" lengthAdjust="spacingAndGlyphs" >Glutathione</text>
<text x="406.6" y="505.2" font-size="15" fill="#2a2a2a" stroke="#2a2a2a" stroke-width="0.1" textLength="67.4" lengthAdjust="spacingAndGlyphs" >Peroxidase</text>
<path d="M538.2,409 C 533,418 524,428 518,437 C 513,444 511.4,452 511.4,462 C 511.4,480 525,494 541,494 C 557,494 569.8,481 569.8,463 C 569.8,453 566,445 561,438 C 553,427 543,418 538.2,409 Z" stroke="#5ba3c6" stroke-width="2" fill="#fff" />
<text x="530.2" y="465.4" font-size="12" fill="#333" stroke="#333" stroke-width="0.05" >H<tspan font-size="7.5" dy="3">2</tspan><tspan dy="-3">O</tspan></text>
<polygon points="520.7,505.8 539.8,513.8 545.1,500 553.4,507.6 569,494.7 568.1,512 584.6,504.4 577,514.2 601.9,514.9 580.1,523.1 585.9,529.3 577,532.4 588.2,542.4 569.4,538.7 569.9,548 557.4,543.6 554.4,552.2 546.4,547.6 540.2,555.1 535.3,550.7 523.3,560 521.1,551.1 505.1,549.3 514.9,541.3 499.8,534.2 518,530.2 504.7,520 524.7,518.2" fill="#fff" stroke="#5ba3c6" stroke-width="2" stroke-linejoin="miter"/>
<text x="534" y="534.2" font-size="12" fill="#333" stroke="#333" stroke-width="0.05" >H<tspan font-size="7.5" dy="3">2</tspan><tspan dy="-3">O</tspan><tspan font-size="7.5" dy="3">2</tspan></text>
<line x1="684.2" y1="8" x2="684.2" y2="151" stroke="#f8f8f8" stroke-width="1.5" />
<text x="142.4" y="399.7" font-size="17" fill="#000" stroke="#000" stroke-width="0.1" font-weight="bold" textLength="11.4" lengthAdjust="spacingAndGlyphs" >B</text>
<text x="33.1" y="594.6" font-size="17" fill="#000" stroke="#000" stroke-width="0.1" font-weight="bold" textLength="12.0" lengthAdjust="spacingAndGlyphs" >C</text>
</svg>
</body></html>
